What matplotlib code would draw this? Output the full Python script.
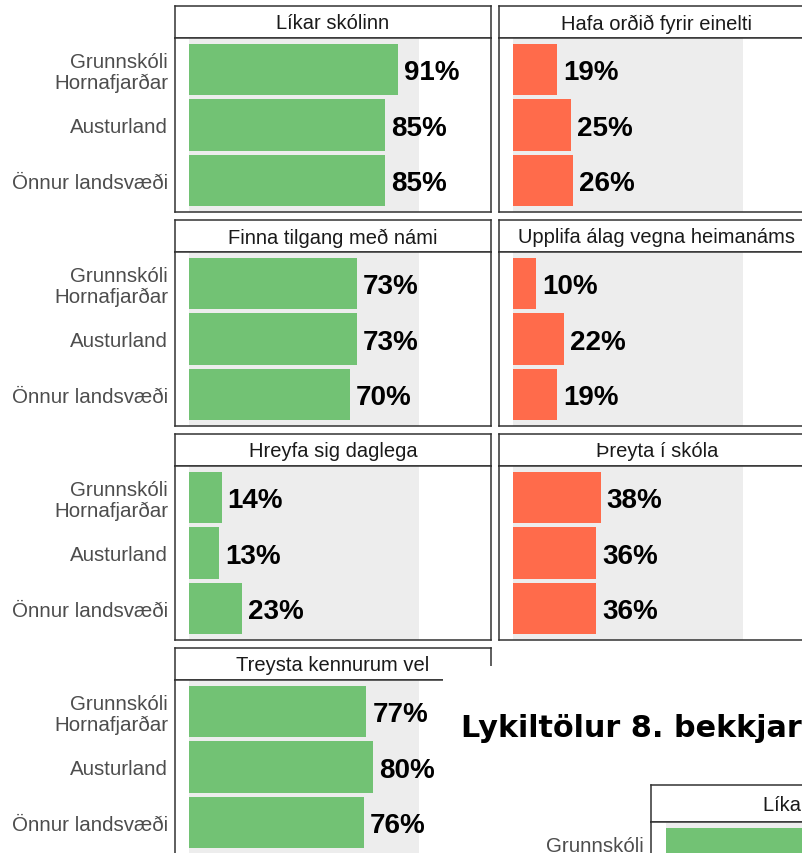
import matplotlib.pyplot as plt

plt.switch_backend('Agg')
plt.rcParams['font.family'] = ['Liberation Sans', 'DejaVu Sans']

# Flokkar (raðir í hverjum reit)
skolar = ["Grunnskóli\nHornafjarðar", "Austurland", "Önnur landsvæði"]

# Vinstri dálkur (grænt)
titlar_vinstri = ["Líkar skólinn", "Finna tilgang með námi",
                  "Hreyfa sig daglega", "Treysta kennurum vel"]
likar_skolinn = [91, 85, 85]
finna_tilgang = [73, 73, 70]
hreyfa_sig = [14, 13, 23]
treysta_kennurum = [77, 80, 76]

# Hægri dálkur (rautt)
titlar_haegri = ["Hafa orðið fyrir einelti", "Upplifa álag vegna heimanáms",
                 "Þreyta í skóla"]
einelti = [19, 25, 26]
alag_heimanam = [10, 22, 19]
threyta = [38, 36, 36]

# 8. bekkur (aðeins byrjunin sést)
titill_8 = "Lykiltölur 8. bekkjar"
likar_skolinn_8 = [88, 84, 85]

GREEN = "#72C274"
RED = "#FF6B4B"
BG = "#EDEDED"
EDGE = "#333333"

W, H = 803, 854
fig = plt.figure(figsize=(W / 100, H / 100), dpi=100)


def px_axes(x0, y0, x1, y1):
    return fig.add_axes([x0 / W, 1 - y1 / H, (x1 - x0) / W, (y1 - y0) / H])


def frame(ax):
    for s in ax.spines.values():
        s.set_color(EDGE)
        s.set_linewidth(1.1)


def panel(x0, y0, title, values, color, show_labels, strip_h=32, width=316):
    st = px_axes(x0, y0, x0 + width, y0 + strip_h)
    st.set_facecolor("white")
    st.set_xticks([])
    st.set_yticks([])
    frame(st)
    st.text(0.5, 0.47, title, ha="center", va="center", fontsize=14.5,
            color="#1A1A1A", transform=st.transAxes)

    ax = px_axes(x0, y0 + strip_h, x0 + width, y0 + strip_h + 174)
    ax.set_facecolor("white")
    ax.axvspan(0, 100, color=BG, zorder=0, lw=0)
    pos = list(range(1, len(values) + 1))
    ax.barh(pos, values, height=0.93, color=color, zorder=2)
    for p, v in zip(pos, values):
        ax.text(v + 2.6, p + 0.05, f"{v}%", ha="left", va="center",
                fontsize=20, fontweight="bold", color="black", zorder=3)
    ax.set_xlim(-6.25, 131.25)
    ax.set_ylim(3.565, 0.435)
    ax.set_xticks([])
    ax.set_yticks(pos)
    if show_labels:
        ax.set_yticklabels(skolar, fontsize=14.8, color="#4D4D4D", linespacing=1.12)
    else:
        ax.set_yticklabels([])
    ax.tick_params(axis="y", length=0, pad=5)
    frame(ax)
    return st, ax


left_vals = [likar_skolinn, finna_tilgang, hreyfa_sig, treysta_kennurum]
right_vals = [einelti, alag_heimanam, threyta]
row_tops = [7, 221, 435, 649]

for top, t, v in zip(row_tops, titlar_vinstri, left_vals):
    panel(175, top, t, v, GREEN, True)
for top, t, v in zip(row_tops, titlar_haegri, right_vals):
    panel(499, top, t, v, RED, False)

# Hvítur flötur ofan á (næsta mynd byrjar)
cover = px_axes(443, 667, W + 5, H + 5)
cover.set_facecolor("white")
cover.set_xticks([])
cover.set_yticks([])
for s in cover.spines.values():
    s.set_visible(False)
cover.set_zorder(5)

fig.text(461 / W, 1 - 737 / H, titill_8, ha="left", va="baseline",
         fontsize=21.8, fontweight="bold", family="DejaVu Sans",
         color="black", zorder=10)

st8, ax8 = panel(651, 786, titlar_vinstri[0], likar_skolinn_8, GREEN, True,
                 strip_h=37, width=338)
st8.set_zorder(6)
ax8.set_zorder(6)

fig.savefig("out.png", dpi=100)
plt.close(fig)
